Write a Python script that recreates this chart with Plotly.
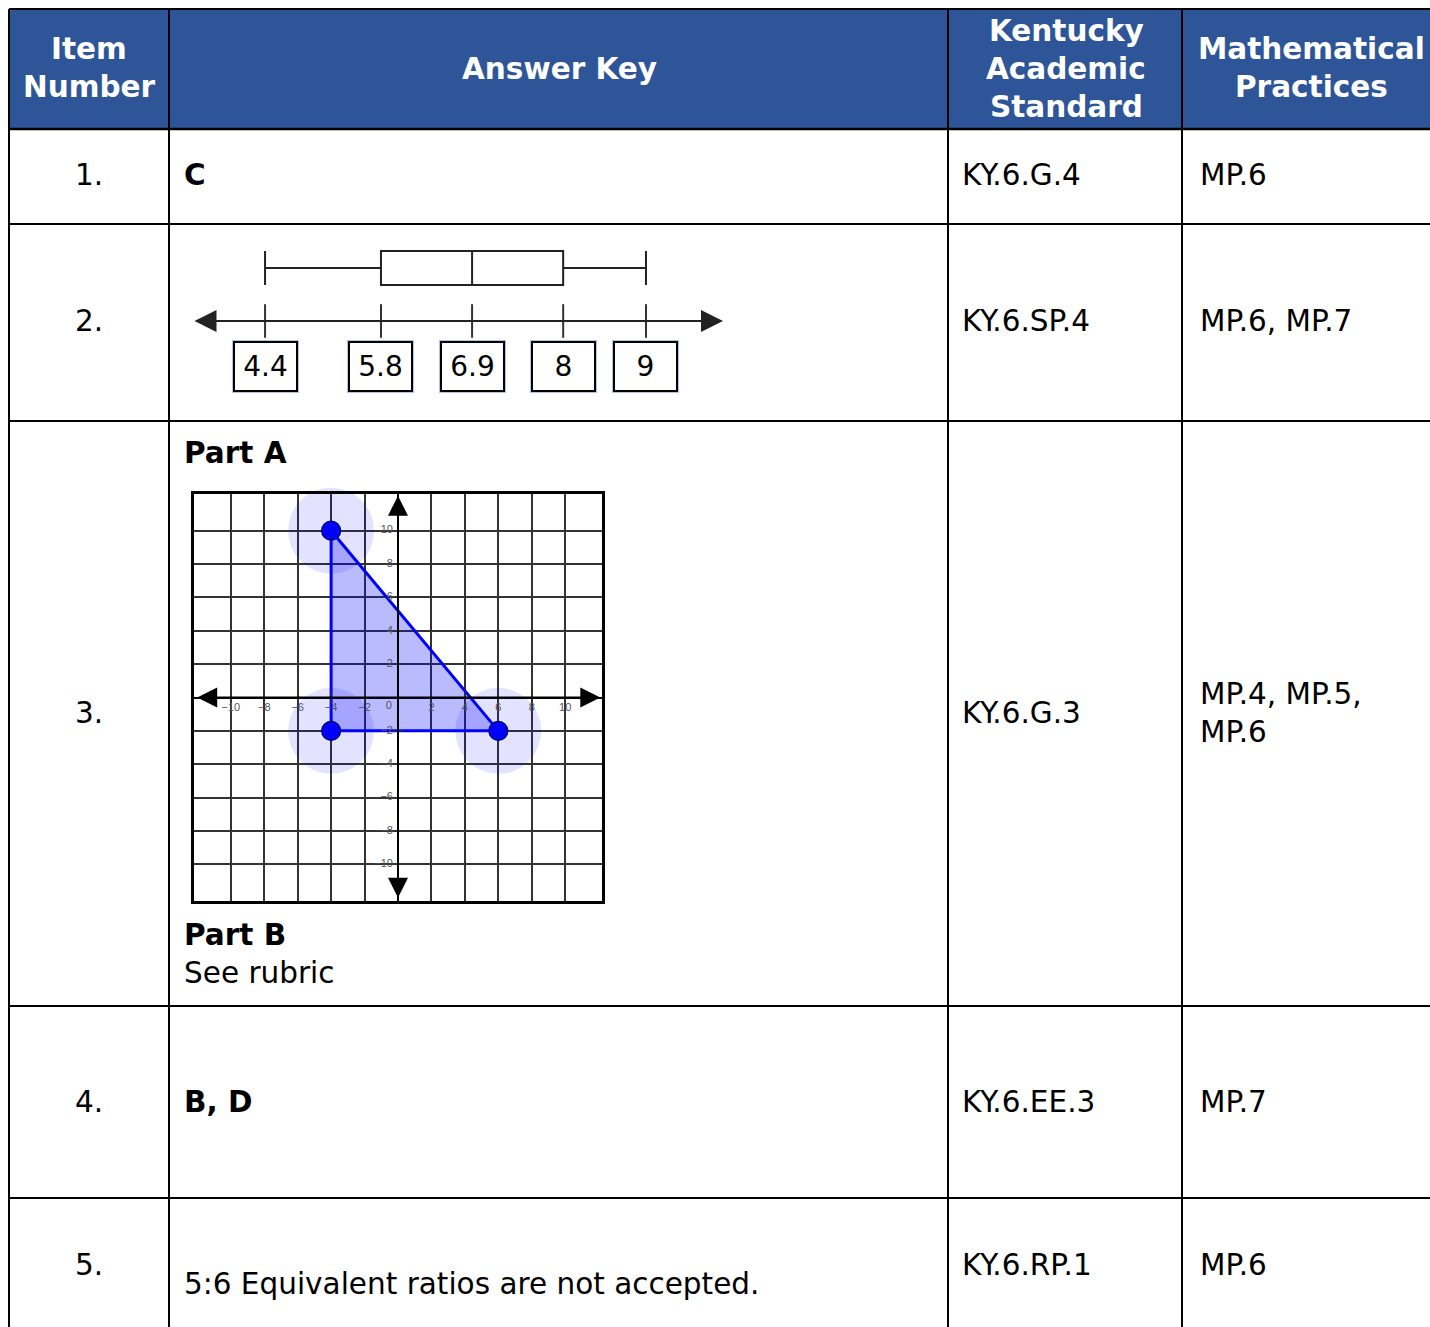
import plotly.graph_objects as go

# ---------------- data ----------------
HEADERS = [["Item", "Number"], ["Answer Key"], ["Kentucky", "Academic", "Standard"], ["Mathematical", "Practices"]]
ITEM_NUMBERS = ["1.", "2.", "3.", "4.", "5."]
STANDARDS = ["KY.6.G.4", "KY.6.SP.4", "KY.6.G.3", "KY.6.EE.3", "KY.6.RP.1"]
PRACTICES = [["MP.6"], ["MP.6, MP.7"], ["MP.4, MP.5,", "MP.6"], ["MP.7"], ["MP.6"]]
ANSWER_1 = "C"
ANSWER_3_PART_A = "Part A"
ANSWER_3_PART_B = "Part B"
ANSWER_3_NOTE = "See rubric"
ANSWER_4 = "B, D"
ANSWER_5 = "5:6 Equivalent ratios are not accepted."

# box plot five-number summary (min, Q1, median, Q3, max)
BOX_MIN, BOX_Q1, BOX_MED, BOX_Q3, BOX_MAX = 4.4, 5.8, 6.9, 8, 9
BOX_LABELS = ["4.4", "5.8", "6.9", "8", "9"]
BOX_TICKS = [4.4, 5.8, 6.9, 8, 9]

# coordinate-grid triangle
TRI_X = [-4, -4, 6]
TRI_Y = [10, -2, -2]
GRID_TICKS = [-10, -8, -6, -4, -2, 2, 4, 6, 8, 10]
GRID_TICK_LABELS = ["\u221210", "\u22128", "\u22126", "\u22124", "\u22122", "2", "4", "6", "8", "10"]

# ---------------- layout constants ----------------
W, H = 1430, 1327
COLS = [9, 169, 948, 1182, 1440]
ROWS = [9, 129, 224, 421, 1006, 1198, 1340]
HEADER_BG = "#2E5597"
FONT = "DejaVu Sans"
FS = 29.5


def dom_x(a, b):
    return [a / W, b / W]


def dom_y(top, bottom):
    return [1 - bottom / H, 1 - top / H]


fig = go.Figure()

# ---------- box plot (row 2) ----------
NL_RANGE = [3.53, 9.93]
BP_TOP, BP_BOTTOM = 240, 400
BOX_Y, BOX_H, LINE_Y, LABEL_Y = 268, 34, 321, 366

fig.add_trace(go.Box(
    q1=[BOX_Q1], median=[BOX_MED], q3=[BOX_Q3], lowerfence=[BOX_MIN], upperfence=[BOX_MAX],
    y=[BOX_Y], orientation="h", width=BOX_H, whiskerwidth=1, boxpoints=False,
    fillcolor="white", line=dict(color="#222", width=2),
    xaxis="x2", yaxis="y2", showlegend=False, hoverinfo="skip"))

fig.add_trace(go.Scatter(
    x=BOX_TICKS, y=[LINE_Y] * len(BOX_TICKS), mode="markers",
    marker=dict(symbol="line-ns", size=24, line=dict(color="#333", width=2)),
    xaxis="x2", yaxis="y2", showlegend=False, hoverinfo="skip"))

# ---------- coordinate grid (row 3) ----------
G_RANGE = [-12.2, 12.2]
fig.add_trace(go.Scatter(
    x=TRI_X, y=TRI_Y, mode="markers",
    marker=dict(size=86, color="rgba(0,0,255,0.11)", line=dict(width=0)),
    xaxis="x3", yaxis="y3", showlegend=False, hoverinfo="skip", cliponaxis=False))
fig.add_trace(go.Scatter(
    x=TRI_X + [TRI_X[0]], y=TRI_Y + [TRI_Y[0]], mode="lines", fill="toself",
    fillcolor="rgba(0,0,255,0.27)", line=dict(color="#0000ff", width=3),
    xaxis="x3", yaxis="y3", showlegend=False, hoverinfo="skip"))
# small tick marks on the axes
fig.add_trace(go.Scatter(
    x=GRID_TICKS, y=[0] * len(GRID_TICKS), mode="markers",
    marker=dict(symbol="line-ns", size=9, line=dict(color="#333", width=1)),
    xaxis="x3", yaxis="y3", showlegend=False, hoverinfo="skip"))
fig.add_trace(go.Scatter(
    x=[0] * len(GRID_TICKS), y=GRID_TICKS, mode="markers",
    marker=dict(symbol="line-ew", size=9, line=dict(color="#333", width=1)),
    xaxis="x3", yaxis="y3", showlegend=False, hoverinfo="skip"))
# tick labels
fig.add_trace(go.Scatter(
    x=GRID_TICKS + [-0.55], y=[-0.65] * len(GRID_TICKS) + [-0.55], mode="text",
    text=GRID_TICK_LABELS + ["0"], textposition="middle center",
    textfont=dict(family="Liberation Sans", size=11, color="#555"),
    xaxis="x3", yaxis="y3", showlegend=False, hoverinfo="skip"))
fig.add_trace(go.Scatter(
    x=[-0.3] * len(GRID_TICKS), y=GRID_TICKS, mode="text",
    text=GRID_TICK_LABELS, textposition="middle left",
    textfont=dict(family="Liberation Sans", size=11, color="#555"),
    xaxis="x3", yaxis="y3", showlegend=False, hoverinfo="skip"))
# vertices
fig.add_trace(go.Scatter(
    x=TRI_X, y=TRI_Y, mode="markers",
    marker=dict(size=19, color="#0000ff", line=dict(color="#000066", width=1.2)),
    xaxis="x3", yaxis="y3", showlegend=False, hoverinfo="skip", cliponaxis=False))

# ---------- table shapes ----------
shapes = [dict(type="rect", xref="x", yref="y", x0=COLS[0], x1=COLS[-1], y0=ROWS[0], y1=ROWS[1],
               fillcolor=HEADER_BG, line=dict(width=0), layer="below")]
for cx in COLS[:-1]:
    shapes.append(dict(type="line", xref="x", yref="y", x0=cx, x1=cx, y0=ROWS[0], y1=ROWS[-1],
                       line=dict(color="black", width=2)))
for ry in ROWS[:-1]:
    shapes.append(dict(type="line", xref="x", yref="y", x0=COLS[0], x1=COLS[-1], y0=ry, y1=ry,
                       line=dict(color="black", width=2 if ry != ROWS[1] else 2.5)))

# ---------- text ----------
ann = []


def txt(x, y, s, bold=False, anchor="left", color="black", size=FS):
    ann.append(dict(xref="x", yref="y", x=x, y=y, text=("<b>%s</b>" % s) if bold else s,
                    showarrow=False, xanchor=anchor, yanchor="middle",
                    font=dict(family=FONT, size=size, color=color)))


HEADER_X = [89, 559, 1066, 1311]
HEADER_LINE_Y = {1: [69], 2: [49, 87], 3: [31, 69, 107]}
for hx, lines in zip(HEADER_X, HEADERS):
    for ly, line in zip(HEADER_LINE_Y[len(lines)], lines):
        txt(hx, ly, line, bold=True, anchor="center", color="white")

C2, C3, C4 = 182, 960, 1198
ROW_Y = [175, 321, 713, 1102, 1265]
for ry, num, std, prac in zip(ROW_Y, ITEM_NUMBERS, STANDARDS, PRACTICES):
    txt(89, ry, num, anchor="center")
    txt(C3, ry, std)
    if len(prac) == 1:
        txt(C4, ry, prac[0])
    else:
        for k, p in enumerate(prac):
            txt(C4, ry - 19 + 38 * k, p)

txt(C2, 175, ANSWER_1, bold=True)
txt(C2, 453, ANSWER_3_PART_A, bold=True)
txt(C2, 935, ANSWER_3_PART_B, bold=True)
txt(C2, 973, ANSWER_3_NOTE)
txt(C2, 1102, ANSWER_4, bold=True)
txt(C2, 1284, ANSWER_5)

# number line with arrows
ann.append(dict(xref="x2", yref="y2", axref="x2", ayref="y2", x=NL_RANGE[1], y=LINE_Y,
                ax=NL_RANGE[0], ay=LINE_Y, text="", showarrow=True, arrowhead=2,
                arrowside="end+start", arrowsize=2.2, arrowwidth=2, arrowcolor="#222",
                standoff=0, startstandoff=0))
# value boxes
for v, lab in zip(BOX_TICKS, BOX_LABELS):
    ann.append(dict(xref="x2", yref="y2", x=v, y=LABEL_Y, text="", showarrow=False,
                    width=64, height=50, borderpad=0, borderwidth=1.5, bordercolor="#a9c4ee",
                    bgcolor="white", xanchor="center", yanchor="middle"))
    ann.append(dict(xref="x2", yref="y2", x=v, y=LABEL_Y, text=lab, showarrow=False,
                    width=61, height=47, borderpad=0, borderwidth=2, bordercolor="black",
                    bgcolor="white", xanchor="center", yanchor="middle",
                    font=dict(family=FONT, size=28, color="black")))

# grid axis arrows
for (x0, y0, x1, y1) in [(G_RANGE[0] + 0.1, 0, G_RANGE[1] - 0.1, 0), (0, G_RANGE[0] + 0.1, 0, G_RANGE[1] - 0.1)]:
    ann.append(dict(xref="x3", yref="y3", axref="x3", ayref="y3", x=x1, y=y1, ax=x0, ay=y0,
                    text="", showarrow=True, arrowhead=2, arrowside="end+start",
                    arrowsize=2.0, arrowwidth=2, arrowcolor="black", standoff=0, startstandoff=0))
# axis names
ann.append(dict(xref="x3", yref="y3", x=0, y=12.9, text="y", showarrow=False,
                font=dict(family="Liberation Sans", size=11, color="#666")))
ann.append(dict(xref="x3", yref="y3", x=12.75, y=0, text="x", showarrow=False,
                font=dict(family="Liberation Sans", size=11, color="#e4e4e4")))

fig.update_layout(
    width=W, height=H, margin=dict(l=0, r=0, t=0, b=0),
    paper_bgcolor="white", plot_bgcolor="rgba(0,0,0,0)",
    showlegend=False, shapes=shapes, annotations=ann,
    xaxis=dict(domain=[0, 1], range=[0, W], visible=False, fixedrange=True),
    yaxis=dict(domain=[0, 1], range=[H, 0], visible=False, fixedrange=True),
    xaxis2=dict(domain=dom_x(193, 723), range=NL_RANGE, visible=False, anchor="y2"),
    yaxis2=dict(domain=dom_y(BP_TOP, BP_BOTTOM), range=[BP_BOTTOM, BP_TOP], visible=False, anchor="x2"),
    xaxis3=dict(domain=dom_x(194, 602), range=G_RANGE, anchor="y3", showgrid=True,
                tickvals=GRID_TICKS, showticklabels=False, ticks="", gridcolor="#333", gridwidth=1.5,
                zeroline=True, zerolinecolor="black", zerolinewidth=2,
                showline=True, mirror=True, linecolor="black", linewidth=3),
    yaxis3=dict(domain=dom_y(494, 901), range=G_RANGE, anchor="x3", showgrid=True,
                tickvals=GRID_TICKS, showticklabels=False, ticks="", gridcolor="#333", gridwidth=1.5,
                zeroline=True, zerolinecolor="black", zerolinewidth=2,
                showline=True, mirror=True, linecolor="black", linewidth=3),
)

fig.write_html("out.html", config={"displayModeBar": False},
               post_script="document.body.style.margin='0px';document.body.style.overflow='hidden';")
